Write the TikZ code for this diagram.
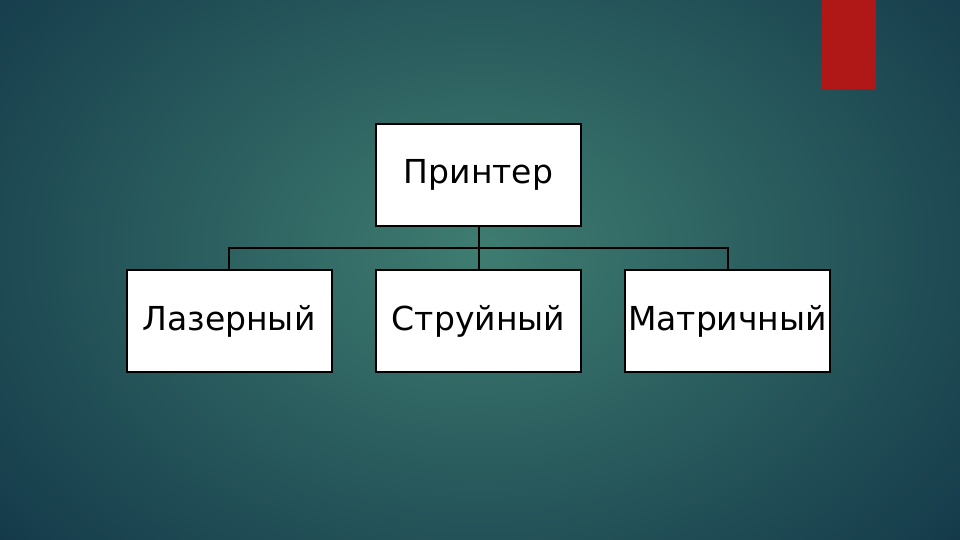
\documentclass[tikz,border=0pt]{standalone}
\usepackage{fontspec}
\setmainfont{DejaVu Sans}
\definecolor{bginner}{RGB}{62,124,112}
\definecolor{bgouter}{RGB}{20,58,74}
\definecolor{accent}{RGB}{176,24,24}
\tikzset{
  box/.style={draw=black, line width=2pt, fill=white, minimum width=205pt, minimum height=102pt, inner sep=0pt, font=\fontsize{33}{38}\selectfont, text=black},
  link/.style={draw=black, line width=2pt}
}
\begin{document}
\begin{tikzpicture}[x=1pt,y=-1pt]
\useasboundingbox (0,0) rectangle (960,540);
\shade[inner color=bginner, outer color=bgouter] (-150,-200) rectangle (1110,700);
\fill[accent] (822,0) rectangle (876,89);
\node[box] (root) at (478.5,175) {\raisebox{-2pt}{Принтер}};
\node[box] (laser) at (229,321) {\raisebox{-2pt}{Лазерный}};
\node[box] (jet) at (478.5,321) {\raisebox{-2pt}{Струйный}};
\node[box] (matrix) at (727.5,321) {\raisebox{-2pt}{Матричный}};
\coordinate (bus) at (478.5,248);
\draw[link] (root.south) -- (bus);
\draw[link] (laser.north) |- (bus) -| (matrix.north);
\draw[link] (bus) -- (jet.north);
\end{tikzpicture}
\end{document}
